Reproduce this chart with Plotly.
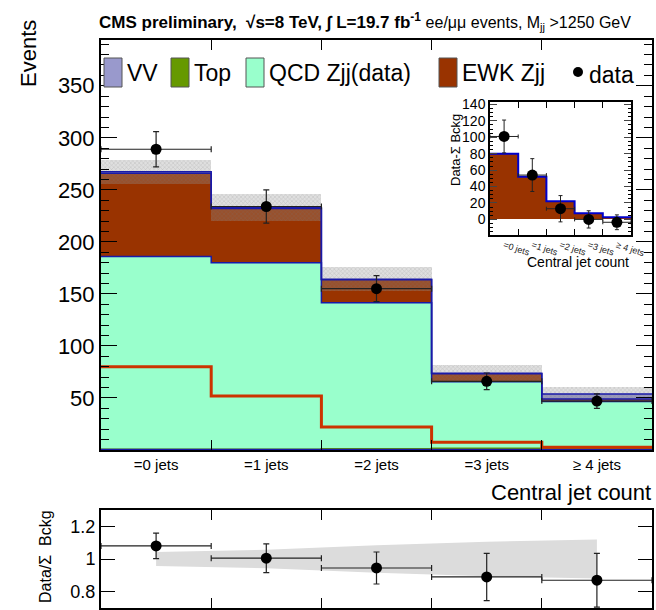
import numpy as np
import plotly.graph_objects as go

# ---------------- data ----------------
categories = ["=0 jets", "=1 jets", "=2 jets", "=3 jets", "≥ 4 jets"]
top_vals = [0.5, 0.5, 1.0, 1.5, 1.5]
qcd_vals = [185.5, 179.5, 140.6, 64.2, 45.0]
ewk_vals = [80.0, 52.0, 22.0, 7.5, 2.6]
vv_vals = [1.5, 1.0, 0.4, 0.5, 4.7]
unc_vals = [11.5, 13.0, 11.5, 7.8, 6.5]
data_vals = [289, 234, 155, 66, 47]
data_err = [17, 16, 12.5, 8, 7]
inset_diff = [101, 54, 13, 0, -3.5]
inset_err = [20, 20, 16, 10.5, 9]
ratio_vals = [1.08, 1.005, 0.945, 0.89, 0.87]
ratio_err = [0.078, 0.088, 0.098, 0.145, 0.165]
ratio_band = [0.043, 0.057, 0.084, 0.106, 0.12]

W, H = 656, 610
FONT = "Liberation Sans, Arial, Helvetica, sans-serif"
C_VV = "#9999cc"
C_TOP = "#669900"
C_QCD = "#99ffcc"
C_EWK = "#993300"
C_LINE = "#1a1aa8"
C_EWKLINE = "#cc3300"

n = len(categories)
centers = np.arange(n) + 0.5
edges = np.arange(n + 1)


def px_x(p):
    return p / W


def px_y(p):
    return 1 - p / H


def step(v):
    v = list(v)
    return edges, v + [v[-1]]


top = np.array(top_vals)
qcd = np.array(qcd_vals)
ewk = np.array(ewk_vals)
vv = np.array(vv_vals)
base_qcd = top
base_ewk = top + qcd
base_vv = top + qcd + ewk
total = base_vv + vv
unc = np.array(unc_vals)

fig = go.Figure()

# ---------------- main stack ----------------
for vals, base, col in [(top, np.zeros(n), C_TOP), (qcd, base_qcd, C_QCD),
                        (ewk, base_ewk, C_EWK), (vv, base_vv, C_VV)]:
    fig.add_trace(go.Bar(x=centers, y=vals, base=base, width=1.0,
                         marker=dict(color=col, line=dict(width=0)),
                         xaxis="x", yaxis="y", showlegend=False, hoverinfo="skip"))

# outlines
for vals, col, w in [(top, C_TOP, 2), (base_ewk, C_LINE, 1.5), (base_vv, C_LINE, 1.5), (total, C_LINE, 1.5)]:
    sx, sy = step(vals)
    fig.add_trace(go.Scatter(x=sx, y=sy, mode="lines", line=dict(color=col, width=w, shape="hv"),
                             xaxis="x", yaxis="y", showlegend=False, hoverinfo="skip"))
sx, sy = step(np.zeros(n) + 0.6)
fig.add_trace(go.Scatter(x=sx, y=sy, mode="lines", line=dict(color=C_LINE, width=1.5, shape="hv"),
                         xaxis="x", yaxis="y", showlegend=False, hoverinfo="skip"))

# uncertainty band
fig.add_trace(go.Bar(x=centers, y=2 * unc, base=total - unc, width=1.0,
                     marker=dict(color="rgba(150,150,150,0.30)", line=dict(width=0),
                                 pattern=dict(shape="x", fgcolor="rgba(120,120,120,0.6)",
                                              size=3, solidity=0.3)),
                     xaxis="x", yaxis="y", showlegend=False, hoverinfo="skip"))

# EWK alone
sx, sy = step(ewk)
fig.add_trace(go.Scatter(x=sx, y=sy, mode="lines", line=dict(color=C_EWKLINE, width=3, shape="hv"),
                         xaxis="x", yaxis="y", showlegend=False, hoverinfo="skip"))

# data
fig.add_trace(go.Scatter(x=centers, y=data_vals, mode="markers",
                         marker=dict(color="black", size=11),
                         error_x=dict(type="constant", value=0.5, width=3, thickness=1.2, color="#222"),
                         error_y=dict(type="data", array=data_err, width=3, thickness=1.2, color="#222"),
                         xaxis="x", yaxis="y", showlegend=False))

# ---------------- inset ----------------
fig.add_trace(go.Bar(x=centers, y=ewk, width=1.0, marker=dict(color=C_EWK, line=dict(width=0)),
                     xaxis="x3", yaxis="y3", showlegend=False, hoverinfo="skip"))
sx, sy = step(ewk)
fig.add_trace(go.Scatter(x=sx, y=sy, mode="lines", line=dict(color="#0000cc", width=2, shape="hv"),
                         xaxis="x3", yaxis="y3", showlegend=False, hoverinfo="skip"))
fig.add_trace(go.Scatter(x=centers, y=inset_diff, mode="markers",
                         marker=dict(color="black", size=11),
                         error_x=dict(type="constant", value=0.5, width=2, thickness=1, color="#222"),
                         error_y=dict(type="data", array=inset_err, width=2, thickness=1, color="#222"),
                         xaxis="x3", yaxis="y3", showlegend=False))

# ---------------- ratio ----------------
rb = np.array(ratio_band)
fig.add_trace(go.Scatter(x=np.concatenate([centers, centers[::-1]]),
                         y=np.concatenate([1 + rb, (1 - rb)[::-1]]),
                         mode="lines", fill="toself", fillcolor="#dcdcdc",
                         line=dict(width=0), xaxis="x2", yaxis="y2", showlegend=False, hoverinfo="skip"))
fig.add_trace(go.Scatter(x=centers, y=ratio_vals, mode="markers",
                         marker=dict(color="black", size=11),
                         error_x=dict(type="constant", value=0.5, width=3, thickness=1.2, color="#222"),
                         error_y=dict(type="data", array=ratio_err, width=3, thickness=1.2, color="#222"),
                         xaxis="x2", yaxis="y2", showlegend=False))

axis_common = dict(showline=True, linecolor="black", linewidth=2, mirror="ticks",
                   showgrid=False, zeroline=False, automargin=False,
                   tickcolor="black", tickfont=dict(family=FONT, color="black"))

main_dom_x = [px_x(101), px_x(652)]
fig.update_layout(
    width=W, height=H, margin=dict(l=0, r=0, t=0, b=0),
    paper_bgcolor="white", plot_bgcolor="white",
    barmode="overlay", bargap=0,
    font=dict(family=FONT, color="black"),
    xaxis=dict(domain=main_dom_x, anchor="y", range=[0, n],
               tickmode="array", tickvals=centers, ticktext=categories,
               ticks="inside", ticklen=0, tickfont_size=15,
               minor=dict(ticks="inside", tickmode="array", tickvals=edges, ticklen=10, tickcolor="black"),
               **{k: v for k, v in axis_common.items() if k != "tickfont"}),
    yaxis=dict(domain=[px_y(450), px_y(40)], anchor="x", range=[0, 394],
               tickmode="array", tickvals=[50, 100, 150, 200, 250, 300, 350],
               ticks="inside", ticklen=16, tickfont_size=22,
               minor=dict(ticks="inside", dtick=10, tick0=0, ticklen=8, tickcolor="black"),
               **{k: v for k, v in axis_common.items() if k != "tickfont"}),
    xaxis2=dict(domain=main_dom_x, anchor="y2", range=[0, n], showticklabels=False,
                tickmode="array", tickvals=edges, ticks="inside", ticklen=10,
                **axis_common),
    yaxis2=dict(domain=[px_y(608), px_y(510)], anchor="x2", range=[0.7, 1.3],
                tickmode="array", tickvals=[0.8, 1.0, 1.2], ticktext=["0.8", "1", "1.2"],
                ticks="inside", ticklen=14, tickfont_size=18,
                **{k: v for k, v in axis_common.items() if k != "tickfont"}),
    xaxis3=dict(domain=[px_x(490), px_x(631)], anchor="y3", range=[0, n],
                tickmode="array", tickvals=centers, ticktext=categories,
                ticks="inside", ticklen=0, tickangle=18,
                tickfont=dict(family=FONT, size=9, color="#222"),
                minor=dict(ticks="inside", tickmode="array", tickvals=edges, ticklen=6, tickcolor="black"),
                showline=True, linecolor="black", linewidth=1.5, mirror="ticks",
                showgrid=False, zeroline=False, automargin=False),
    yaxis3=dict(domain=[px_y(235), px_y(102)], anchor="x3", range=[-19, 143],
                tickmode="array", tickvals=[-20, 0, 20, 40, 60, 80, 100, 120, 140],
                ticks="inside", ticklen=7,
                tickfont=dict(family=FONT, size=14, color="black"),
                minor=dict(ticks="inside", dtick=5, tick0=0, ticklen=3, tickcolor="black"),
                showline=True, linecolor="black", linewidth=1.5, mirror="ticks",
                showgrid=False, zeroline=False, automargin=False),
)

ann = []
ann.append(dict(xref="paper", yref="paper", x=px_x(97), y=px_y(22), xanchor="left", yanchor="middle",
                showarrow=False,
                text="<b>CMS preliminary,  √s=8 TeV, ∫ L=19.7 fb<sup>-1</sup></b> <span style='font-size:16px'>ee/μμ events, M<sub>jj</sub> >1250 GeV</span>",
                font=dict(family=FONT, size=17, color="black")))
ann.append(dict(xref="paper", yref="paper", x=px_x(28), y=px_y(54), xanchor="center", yanchor="middle",
                showarrow=False, text="Events", textangle=-90,
                font=dict(family=FONT, size=22, color="black")))
ann.append(dict(xref="paper", yref="paper", x=px_x(653), y=px_y(492), xanchor="right", yanchor="middle",
                showarrow=False, text="Central jet count",
                font=dict(family=FONT, size=22, color="black")))
ann.append(dict(xref="paper", yref="paper", x=px_x(45), y=px_y(557), xanchor="center", yanchor="middle",
                showarrow=False, text="Data/Σ  Bckg", textangle=-90,
                font=dict(family=FONT, size=16, color="black")))
ann.append(dict(xref="paper", yref="paper", x=px_x(455), y=px_y(150), xanchor="center", yanchor="middle",
                showarrow=False, text="Data-Σ Bckg", textangle=-90,
                font=dict(family=FONT, size=13, color="black")))
ann.append(dict(xref="paper", yref="paper", x=px_x(631), y=px_y(262), xanchor="right", yanchor="middle",
                showarrow=False, text="Central jet count",
                font=dict(family=FONT, size=14, color="black")))

# manual legend
shapes = []
legend_items = [("VV", C_VV, 104), ("Top", C_TOP, 171), ("QCD Zjj(data)", C_QCD, 246), ("EWK Zjj", C_EWK, 439)]
for label, col, x0 in legend_items:
    shapes.append(dict(type="rect", xref="paper", yref="paper",
                       x0=px_x(x0), x1=px_x(x0 + 18), y0=px_y(87), y1=px_y(58),
                       fillcolor=col, line=dict(color="#555", width=1)))
    ann.append(dict(xref="paper", yref="paper", x=px_x(x0 + 21), y=px_y(73), xanchor="left", yanchor="middle",
                    showarrow=False, text=label, font=dict(family=FONT, size=23, color="black")))
shapes.append(dict(type="circle", xref="paper", yref="paper",
                   x0=px_x(573), x1=px_x(583), y0=px_y(77), y1=px_y(67),
                   fillcolor="black", line=dict(color="black", width=0)))
ann.append(dict(xref="paper", yref="paper", x=px_x(587), y=px_y(75), xanchor="left", yanchor="middle",
                showarrow=False, text="data", font=dict(family=FONT, size=23, color="black")))

fig.update_layout(annotations=ann, shapes=shapes)
fig.write_html("out.html")
